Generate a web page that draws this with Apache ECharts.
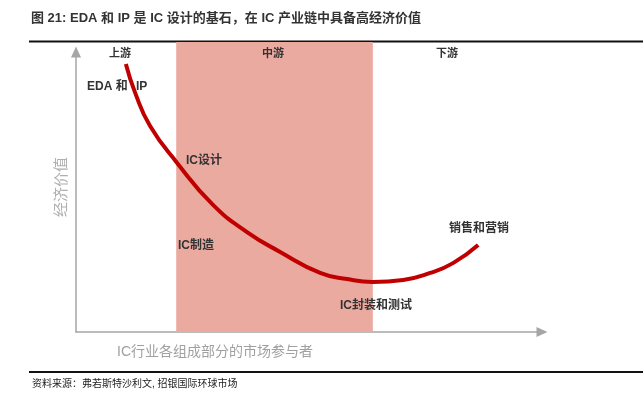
<!DOCTYPE html>
<html>
<head>
<meta charset="utf-8">
<script src="https://cdn.jsdelivr.net/npm/echarts@6/dist/echarts.min.js"></script>
<style>
  html, body { margin: 0; padding: 0; background: #fff; }
  #smile { width: 643px; height: 398px; }
</style>
</head>
<body>
<div id="smile"></div>
<script>
  // 微笑曲线 (x: 产业链位置 0-100, y: 经济价值 0-100)
  let curveX = [10.7, 12.7, 15.9, 21.7, 29.4, 36.7, 43.8, 52.4, 58.2, 63.7, 70.2, 76.0, 80.9, 86.3];
  let curveY = [95.7, 85.4, 73.6, 60.4, 45.4, 35.7, 28.6, 21.1, 18.9, 17.9, 18.6, 21.1, 24.6, 31.1];
  // 中游区间
  let midStart = 21.5;
  let midEnd = 63.7;

  let titleText = '图 21: EDA 和 IP 是 IC 设计的基石，在 IC 产业链中具备高经济价值';
  let sourceText = '资料来源：弗若斯特沙利文, 招银国际环球市场';
  let xName = 'IC行业各组成部分的市场参与者';
  let yName = '经济价值';

  const CJK = '"Noto Sans CJK SC"';
  const LAT = '"Liberation Sans", "Noto Sans CJK SC"';
  const axisGray = '#a6a6a6';

  let chart_smile = echarts.init(document.getElementById('smile'));

  // 标注文字
  function label(text, x, y, size, align, weight, color){
    return {
      type: 'text',
      x: x,
      y: y,
      z: 10,
      style: {
        text: text,
        font: (weight || 'bold') + ' ' + size + 'px ' + LAT,
        fill: color || '#333',
        align: align || 'left',
        verticalAlign: 'middle'
      }
    };
  }

  chart_smile.setOption({
    animation: false,
    grid: [
      { left: 76, right: 101, top: 52, bottom: 66 },
      { left: 76, right: 101, top: 42, bottom: 66 }
    ],
    xAxis: [
      {
        gridIndex: 0,
        type: 'value',
        min: 0,
        max: 100,
        axisLine: {
          show: true,
          symbol: ['none', 'triangle'],
          symbolSize: [10, 11],
          lineStyle: { color: axisGray, width: 1.5 }
        },
        axisTick: { show: false },
        axisLabel: { show: false },
        splitLine: { show: false }
      },
      { gridIndex: 1, type: 'value', min: 0, max: 100, show: false }
    ],
    yAxis: [
      {
        gridIndex: 0,
        type: 'value',
        min: 0,
        max: 100,
        axisLine: {
          show: true,
          symbol: ['none', 'triangle'],
          symbolSize: [10, 11],
          lineStyle: { color: axisGray, width: 1.5 }
        },
        axisTick: { show: false },
        axisLabel: { show: false },
        splitLine: { show: false }
      },
      { gridIndex: 1, type: 'value', min: 0, max: 1, show: false }
    ],
    series: [
      {
        name: '中游',
        type: 'line',
        xAxisIndex: 1,
        yAxisIndex: 1,
        z: 1,
        showSymbol: false,
        silent: true,
        lineStyle: { opacity: 0 },
        data: [[midStart, 0], [midEnd, 0]],
        markArea: {
          silent: true,
          itemStyle: { color: '#EBAAA0' },
          data: [[{ xAxis: midStart }, { xAxis: midEnd }]]
        }
      },
      {
        name: '经济价值',
        type: 'line',
        z: 5,
        smooth: 0.5,
        showSymbol: false,
        silent: true,
        lineStyle: { color: '#C00000', width: 4 },
        data: curveX.map((x, i) => [x, curveY[i]])
      }
    ],
    graphic: [
      label(titleText, 31, 18, 13),
      { type: 'line', shape: { x1: 29, y1: 41.5, x2: 643, y2: 41.5 }, style: { stroke: '#111', lineWidth: 2 } },
      label('上游', 120, 54, 11, 'center'),
      label('中游', 273, 54, 11, 'center'),
      label('下游', 447, 54, 11, 'center'),
      label('EDA 和', 87, 87, 12),
      label('IP', 136, 87, 12),
      label('IC设计', 186, 161, 12),
      label('IC制造', 178, 246, 12),
      label('IC封装和测试', 340, 306, 12),
      label('销售和营销', 449, 229, 12),
      {
        type: 'text',
        x: 60,
        y: 187,
        rotation: Math.PI / 2,
        style: { text: yName, font: '15px ' + CJK, fill: '#b0b0b0', align: 'center', verticalAlign: 'middle' }
      },
      label(xName, 215, 352, 14, 'center', 'normal', '#a0a0a0'),
      { type: 'line', shape: { x1: 29, y1: 372, x2: 643, y2: 372 }, style: { stroke: '#111', lineWidth: 2 } },
      label(sourceText, 32, 384, 10, 'left', 'normal', '#222')
    ]
  });
</script>
</body>
</html>
